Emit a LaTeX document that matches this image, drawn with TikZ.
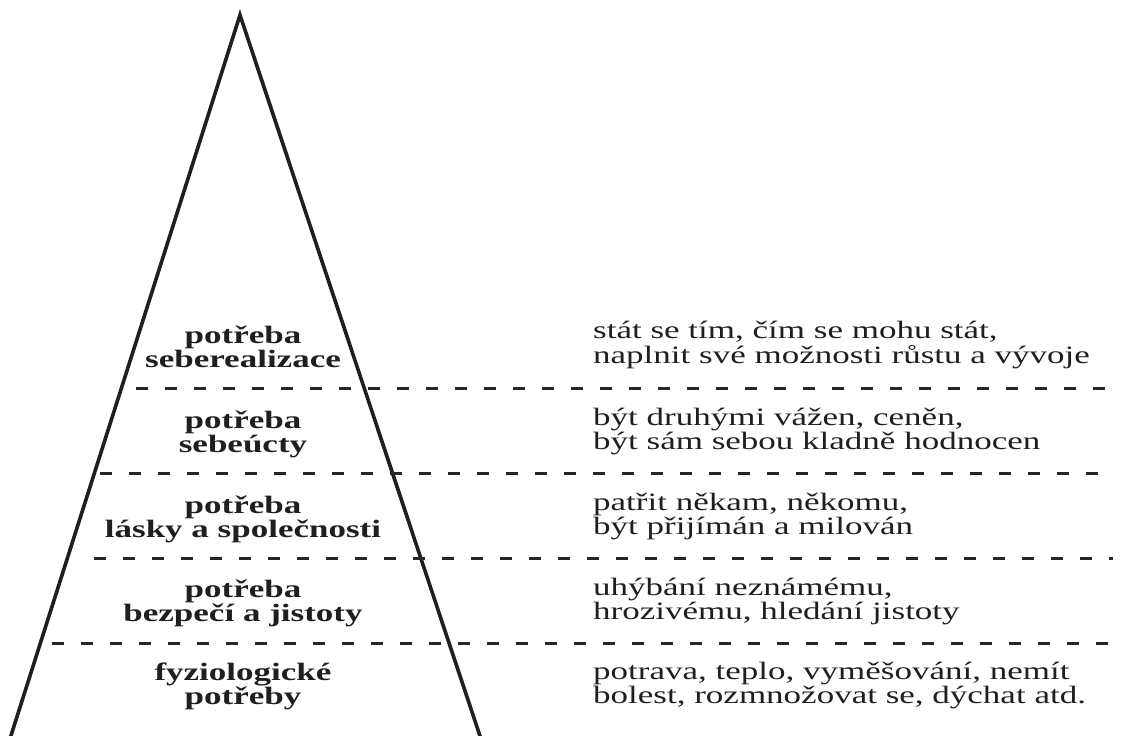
\documentclass[tikz,border=0pt]{standalone}
\usepackage{fontspec}
\setmainfont{Liberation Serif}[FakeStretch=1.4]
\begin{document}
\begin{tikzpicture}[x=1pt,y=-1pt,
  edge/.style={line width=3.6pt,draw=black!88},
  level/.style={line width=3pt,draw=black!85,dash pattern=on 12pt off 17pt},
  need/.style={inner sep=0pt,anchor=base,font=\fontsize{25}{23.5}\selectfont\bfseries,text=black!88},
  desc/.style={inner sep=0pt,anchor=base west,font=\fontsize{25}{24.5}\selectfont,text=black!88}]
\useasboundingbox (0,0) rectangle (1127,736);
\clip (0,0) rectangle (1127,736);
\coordinate (apex) at (240,15);
\coordinate (bl) at (8,745);
\coordinate (br) at (483,745);
\draw[edge,line join=miter] (bl) -- (apex) -- (br);
% dashed levels
\foreach \y/\xs in {388/136,473/100,558/94,643/52}{
  \coordinate (s\y) at (\xs,\y);
  \coordinate (e\y) at (1113,\y);
  \draw[level] (s\y) -- (e\y);
}
% left labels
\newcommand\twoc[2]{\begin{tabular}[t]{@{}c@{}}#1\\#2\end{tabular}}
\newcommand\twol[2]{\begin{tabular}[t]{@{}l@{}}#1\\#2\end{tabular}}
\renewcommand\arraystretch{1}
\node[need] (n1) at (243,343) {\twoc{potřeba}{seberealizace}};
\node[need] (n2) at (243,428) {\twoc{potřeba}{sebeúcty}};
\node[need] (n3) at (243,513) {\twoc{potřeba}{lásky a společnosti}};
\node[need] (n4) at (243,597) {\twoc{potřeba}{bezpečí a jistoty}};
\node[need] (n5) at (243,680) {\twoc{fyziologické}{potřeby}};
% right descriptions
\node[desc] (d1) at (593,338) {\twol{stát se tím, čím se mohu stát,}{naplnit své možnosti růstu a vývoje}};
\node[desc] (d2) at (593,425) {\twol{být druhými vážen, ceněn,}{být sám sebou kladně hodnocen}};
\node[desc] (d3) at (593,510) {\twol{patřit někam, někomu,}{být přijímán a milován}};
\node[desc] (d4) at (593,595) {\twol{uhýbání neznámému,}{hrozivému, hledání jistoty}};
\node[desc] (d5) at (593,679) {\twol{potrava, teplo, vyměšování, nemít}{bolest, rozmnožovat se, dýchat atd.}};
\end{tikzpicture}
\end{document}
